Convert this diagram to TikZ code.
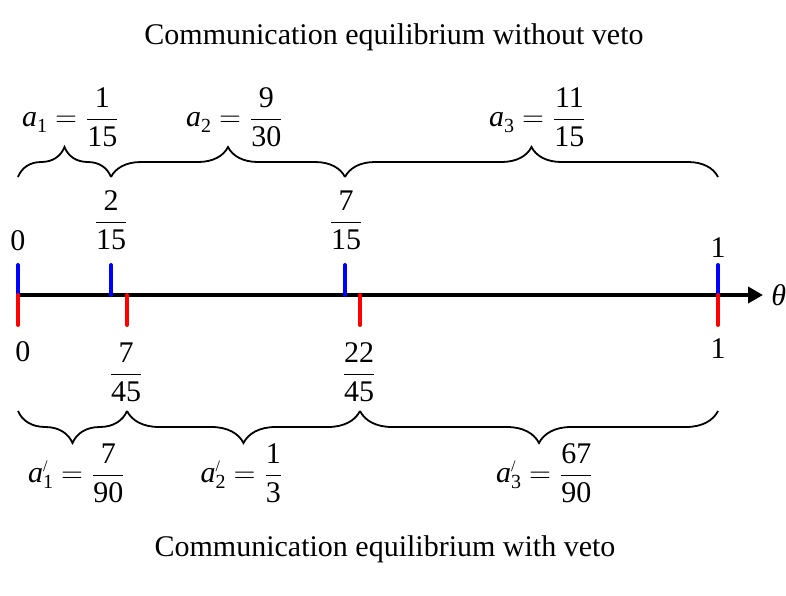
\documentclass[tikz,border=0pt]{standalone}
\usepackage{amsmath}
\usepackage{fontspec}
\setmainfont{Liberation Serif}
\usetikzlibrary{arrows.meta, decorations.pathreplacing, positioning}

\newcommand{\fr}[2]{\dfrac{\text{#1}}{\text{#2}}}
\newcommand{\sub}[1]{\raisebox{-3pt}{\fontsize{10}{10}\selectfont #1}}
\newcommand{\av}[1]{\textit{a}\sub{#1}}
\newcommand{\avp}[1]{\textit{a}\rlap{\raisebox{5.5pt}{\fontsize{8}{8}\selectfont /}}\sub{#1}}

\begin{document}
\begin{tikzpicture}[x=0.5pt, y=-0.5pt, font=\fontsize{15}{18}\selectfont,
    axisline/.style={line width=2.2pt, -{Triangle[length=7.5pt, width=8pt]}},
    bluetick/.style={blue, line width=2pt, line cap=round},
    redtick/.style={red, line width=2pt, line cap=round},
    brc/.style={decorate, decoration={brace, amplitude=15pt}, line width=0.9pt},
    brcdown/.style={decorate, decoration={brace, mirror, amplitude=16pt}, line width=0.9pt},
    lbl/.style={inner sep=0pt}]
    \useasboundingbox (0,0) rectangle (786,595);

    % Titles
    \node[lbl] (top) at (394,37) {Communication equilibrium without veto};
    \node[lbl] (bot) at (385,549) {Communication equilibrium with veto};

    % Axis
    \coordinate (o) at (18,295);
    \coordinate (e) at (763,295);
    \draw[axisline] (o) -- (e);
    \node[lbl, right=4pt of e] (th) {\textit{θ}};

    % Ticks without veto (blue)
    \coordinate (u0) at (18,265);  \coordinate (v0) at (18,295);
    \coordinate (u1) at (111,265); \coordinate (v1) at (111,295);
    \coordinate (u2) at (345,265); \coordinate (v2) at (345,295);
    \coordinate (u3) at (718,265); \coordinate (v3) at (718,295);
    \draw[bluetick] (u0) -- (v0);
    \draw[bluetick] (u1) -- (v1);
    \draw[bluetick] (u2) -- (v2);
    \draw[bluetick] (u3) -- (v3);

    % Ticks with veto (red)
    \coordinate (p0) at (18,295);  \coordinate (q0) at (18,325);
    \coordinate (p1) at (127,295); \coordinate (q1) at (127,325);
    \coordinate (p2) at (360,295); \coordinate (q2) at (360,325);
    \coordinate (p3) at (718,295); \coordinate (q3) at (718,325);
    \draw[redtick] (p0) -- (q0);
    \draw[redtick] (p1) -- (q1);
    \draw[redtick] (p2) -- (q2);
    \draw[redtick] (p3) -- (q3);

    % Tick labels
    \node[lbl] (n0) at (18,241) {0};
    \node[lbl] (n1) at (111,220) {$\fr{2}{15}$};
    \node[lbl] (n2) at (346,220) {$\fr{7}{15}$};
    \node[lbl] (n3) at (718,248) {1};
    \node[lbl] (m0) at (23,352) {0};
    \node[lbl] (m1) at (126,372) {$\fr{7}{45}$};
    \node[lbl] (m2) at (359,372) {$\fr{22}{45}$};
    \node[lbl] (m3) at (718,349) {1};

    % Braces above
    \coordinate (ba0) at (18,177);
    \coordinate (ba1) at (111,177);
    \coordinate (ba2) at (345,177);
    \coordinate (ba3) at (718,177);
    \draw[brc] (ba0) -- (ba1);
    \draw[brc] (ba1) -- (ba2);
    \draw[brc] (ba2) -- (ba3);
    \node[lbl, anchor=south] (a1) at (71,147) {$\av{1} = \fr{1}{15}$};
    \node[lbl, anchor=south] (a2) at (235,147) {$\av{2} = \fr{9}{30}$};
    \node[lbl, anchor=south] (a3) at (538,147) {$\av{3} = \fr{11}{15}$};

    % Braces below
    \coordinate (bb0) at (18,411);
    \coordinate (bb1) at (127,411);
    \coordinate (bb2) at (360,411);
    \coordinate (bb3) at (718,411);
    \draw[brcdown] (bb0) -- (bb1);
    \draw[brcdown] (bb1) -- (bb2);
    \draw[brcdown] (bb2) -- (bb3);
    \node[lbl, anchor=north] (c1) at (77,443) {$\avp{1} = \fr{7}{90}$};
    \node[lbl, anchor=north] (c2) at (242,443) {$\avp{2} = \fr{1}{3}$};
    \node[lbl, anchor=north] (c3) at (545,443) {$\avp{3} = \fr{67}{90}$};
\end{tikzpicture}
\end{document}
